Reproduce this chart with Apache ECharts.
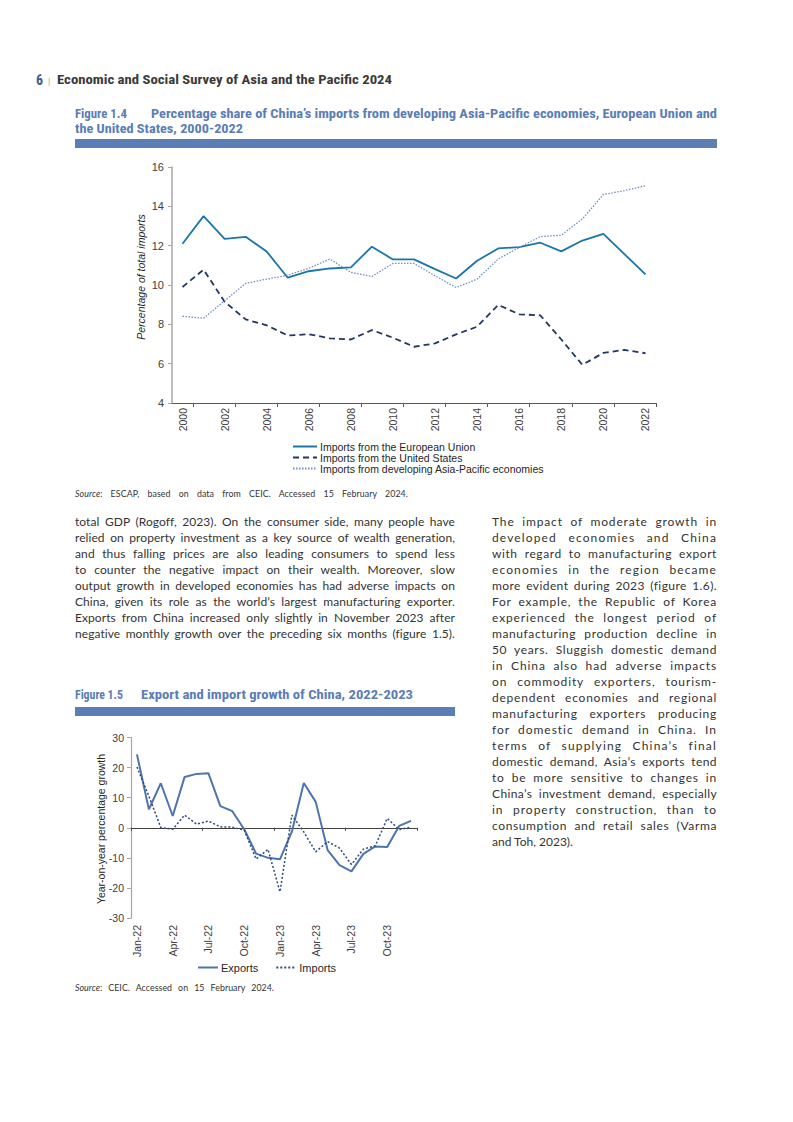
<!DOCTYPE html>
<html>
<head>
<meta charset="utf-8">
<script src="https://cdn.jsdelivr.net/npm/echarts@6/dist/echarts.min.js"></script>
<style>
  html, body { margin:0; padding:0; background:#fff; }
  #page { position:relative; width:793px; height:1122px; overflow:hidden; background:#fff; }
  #chart { position:absolute; left:0; top:0; width:793px; height:1122px; }
  .ln { position:absolute; white-space:nowrap; z-index:2; }
  .ln span { display:inline-block; white-space:nowrap; transform-origin:0 50%; }
  .body { font-family: Lato, "Noto Sans", sans-serif; font-size:12px; color:#333; }
  .src { font-family: Lato, "Noto Sans", sans-serif; font-size:8.8px; color:#333; }
  .ttl { font-family: "Liberation Sans Narrow", "Roboto Condensed", Roboto, sans-serif; font-weight:bold; font-size:13px; color:#5a7db5; }
  .hdr { font-family: "Liberation Sans Narrow", "Roboto Condensed", Roboto, sans-serif; font-weight:bold; font-size:12.5px; color:#3a3a3a; }
  .bar { position:absolute; background:#5b7fb5; z-index:1; }
</style>
</head>
<body>
<div id="page"><div id="chart"></div></div>
<script>
// ---------- Figure 1.4 data ----------
const years = ['2000','2001','2002','2003','2004','2005','2006','2007','2008','2009','2010','2011',
               '2012','2013','2014','2015','2016','2017','2018','2019','2020','2021','2022'];
const euShare   = [12.1,13.5,12.35,12.45,11.7,10.37,10.7,10.84,10.9,11.95,11.3,11.3,
                   10.81,10.33,11.23,11.86,11.93,12.15,11.71,12.26,12.6,11.57,10.54];
const usShare   = [9.9,10.78,9.15,8.25,7.95,7.43,7.5,7.29,7.23,7.71,7.32,6.86,
                   7.03,7.49,7.88,8.99,8.51,8.46,7.23,5.94,6.55,6.7,6.53];
const apShare   = [8.41,8.31,9.2,10.08,10.3,10.5,10.85,11.32,10.64,10.43,11.1,11.1,
                   10.47,9.87,10.3,11.32,11.91,12.46,12.53,13.36,14.6,14.8,15.05];
const names14   = ['Imports from the European Union','Imports from the United States',
                   'Imports from developing Asia-Pacific economies'];

// ---------- Figure 1.5 data ----------
const months = ['Jan-22','Feb-22','Mar-22','Apr-22','May-22','Jun-22','Jul-22','Aug-22','Sep-22','Oct-22','Nov-22','Dec-22',
                'Jan-23','Feb-23','Mar-23','Apr-23','May-23','Jun-23','Jul-23','Aug-23','Sep-23','Oct-23','Nov-23','Dec-23'];
const exportsG = [24.4,6.1,14.8,3.9,16.9,17.9,18.1,7.2,5.5,-0.5,-8.6,-10.0,
                  -10.5,-1.3,14.9,8.6,-7.4,-12.4,-14.5,-8.7,-6.2,-6.4,0.6,2.3];
const importsG = [20.2,10.5,0.1,-0.5,4.2,1.2,2.2,0.3,0.2,-0.8,-10.4,-7.2,
                  -21.3,4.2,-1.4,-8.0,-4.6,-6.8,-12.2,-7.1,-6.0,3.1,-0.6,0.2];
const names15 = ['Exports','Imports'];

// ---------- page text ----------
const leftLines = [
 'total GDP (Rogoff, 2023). On the consumer side, many people have',
 'relied on property investment as a key source of wealth generation,',
 'and thus falling prices are also leading consumers to spend less',
 'to counter the negative impact on their wealth. Moreover, slow',
 'output growth in developed economies has had adverse impacts on',
 'China, given its role as the world’s largest manufacturing exporter.',
 'Exports from China increased only slightly in November 2023 after',
 'negative monthly growth over the preceding six months (figure 1.5).'
];
const rightLines = [
 'The impact of moderate growth in',
 'developed economies and China',
 'with regard to manufacturing export',
 'economies in the region became',
 'more evident during 2023 (figure 1.6).',
 'For example, the Republic of Korea',
 'experienced the longest period of',
 'manufacturing production decline in',
 '50 years. Sluggish domestic demand',
 'in China also had adverse impacts',
 'on commodity exporters, tourism-',
 'dependent economies and regional',
 'manufacturing exporters producing',
 'for domestic demand in China. In',
 'terms of supplying China’s final',
 'domestic demand, Asia’s exports tend',
 'to be more sensitive to changes in',
 'China’s investment demand, especially',
 'in property construction, than to',
 'consumption and retail sales (Varma',
 'and Toh, 2023).'
];

const page = document.getElementById('page');
function put(html, x, yc, w, cls, mode, a) {
  const d = document.createElement('div');
  d.className = 'ln ' + cls;
  d.style.left = x + 'px';
  d.style.top = (yc - 10) + 'px';
  d.style.height = '20px';
  d.style.lineHeight = '20px';
  const s = document.createElement('span');
  s.innerHTML = html;
  d.appendChild(s);
  page.appendChild(d);
  const nat = s.getBoundingClientRect().width;
  if (mode === 'scale' || (w && nat > w)) {
    s.style.transform = 'scaleX(' + (w / nat) + ')';
  } else if (mode === 'just') {
    const txt = s.textContent;
    const n = txt.length;
    const sp = (txt.match(/ /g) || []).length;
    const extra = w - nat;
    s.style.letterSpacing = (extra * (a || 0) / n) + 'px';
    const nat2 = s.getBoundingClientRect().width;
    if (sp > 0) s.style.wordSpacing = ((w - nat2) / sp) + 'px';
  }
}
function bar(x, y, w, h) {
  const b = document.createElement('div');
  b.className = 'bar';
  b.style.left = x + 'px'; b.style.top = y + 'px';
  b.style.width = w + 'px'; b.style.height = h + 'px';
  page.appendChild(b);
}

function buildText() {
  put('<span style="color:#3b5b92;font-size:14px">6</span>', 36, 80, 7, 'hdr', 'scale');
  put('<span style="color:#999;font-weight:normal;font-size:9px">|</span>', 48, 81, 0, 'hdr', 'none');
  put('Economic and Social Survey of Asia and the Pacific 2024', 57, 80, 335, 'hdr', 'scale');
  put('Figure 1.4', 75, 114, 52, 'ttl', 'scale');
  put('Percentage share of China’s imports from developing Asia-Pacific economies, European Union and', 151, 114, 566, 'ttl', 'scale');
  put('the United States, 2000-2022', 75, 129, 168, 'ttl', 'scale');
  bar(75, 139, 642, 9);
  put('<i>Source</i>: ESCAP, based on data from CEIC. Accessed 15 February 2024.', 75, 494, 333, 'src', 'just', 0.1);
  leftLines.forEach((t, i) => put(t, 75, 522 + i * 16, 380, 'body', 'just', 0.15));
  rightLines.forEach((t, i) => {
    if (i === rightLines.length - 1) put(t, 492, 522 + i * 16, 0, 'body', 'none');
    else put(t, 492, 522 + i * 16, 225, 'body', 'just', 0.6);
  });
  put('Figure 1.5', 75, 695, 48, 'ttl', 'scale');
  put('Export and import growth of China, 2022-2023', 141, 695, 272, 'ttl', 'scale');
  bar(75, 707, 380, 9);
  put('<i>Source</i>: CEIC. Accessed on 15 February 2024.', 75, 988, 199, 'src', 'just', 0.1);
}

function buildChart() {
  const chart = echarts.init(document.getElementById('chart'), null, { renderer: 'svg' });
  const axFont = 'Liberation Sans, Arial, sans-serif';
  const hideSym = { color: 'transparent', borderColor: 'transparent', borderWidth: 0 };
  const option = {
    backgroundColor: 'transparent',
    animation: false,
    grid: [
      { left: 172, top: 167, width: 484, height: 236 },
      { left: 131, top: 737.5, width: 286, height: 180.5 }
    ],
    xAxis: [
      {
        gridIndex: 0, type: 'category', data: years, boundaryGap: true,
        axisLine: { show: true, onZero: false, lineStyle: { color: '#595959', width: 1 } },
        axisTick: { show: true, length: 4, interval: function (i) { return i % 2 === 1; }, lineStyle: { color: '#595959' } },
        axisLabel: { interval: 1, rotate: 90, fontSize: 10.5, color: '#404040', fontFamily: axFont, margin: 5, padding: [16, 0, 0, 0] },
        splitLine: { show: false }
      },
      {
        gridIndex: 1, type: 'category', data: months, boundaryGap: true, position: 'bottom',
        axisLine: { show: false, onZero: false },
        axisTick: { show: false },
        axisLabel: { interval: 2, rotate: 90, fontSize: 10.5, color: '#404040', fontFamily: axFont, margin: 7 },
        splitLine: { show: false }
      },
      {
        gridIndex: 1, type: 'category', data: months, boundaryGap: true, position: 'bottom',
        axisLine: { show: true, onZero: true, lineStyle: { color: '#404040', width: 1 } },
        axisTick: { show: true, length: 3, interval: function (i) { return i % 6 === 0; }, lineStyle: { color: '#404040' } },
        axisLabel: { show: false },
        splitLine: { show: false }
      }
    ],
    yAxis: [
      {
        gridIndex: 0, type: 'value', min: 4, max: 16, interval: 2,
        axisLine: { show: true, lineStyle: { color: '#a6a6a6', width: 1.5 } },
        axisTick: { show: true, length: 4, lineStyle: { color: '#a6a6a6' } },
        axisLabel: { fontSize: 11, color: '#404040', fontFamily: axFont, margin: 8 },
        splitLine: { show: false }
      },
      {
        gridIndex: 1, type: 'value', min: -30, max: 30, interval: 10,
        axisLine: { show: true, lineStyle: { color: '#a6a6a6', width: 1.2 } },
        axisTick: { show: true, length: 4, lineStyle: { color: '#a6a6a6' } },
        axisLabel: { fontSize: 10.5, color: '#404040', fontFamily: axFont, margin: 7 },
        splitLine: { show: false }
      }
    ],
    legend: [
      {
        data: names14, orient: 'vertical', left: 292, top: 441, padding: 0,
        itemWidth: 24, itemHeight: 8, itemGap: 0,
        itemStyle: hideSym,
        textStyle: { fontSize: 10.5, lineHeight: 11, color: '#262626', fontFamily: axFont, padding: [0, 0, 0, -2] }
      },
      {
        data: names15, orient: 'horizontal', left: 197, top: 962, padding: 0,
        itemWidth: 20, itemHeight: 8, itemGap: 17,
        itemStyle: hideSym,
        textStyle: { fontSize: 11, color: '#262626', fontFamily: axFont, padding: [0, 0, 0, -2] }
      }
    ],
    graphic: [
      { type: 'text', x: 141, y: 277, rotation: Math.PI / 2,
        style: { text: 'Percentage of total imports', align: 'center', verticalAlign: 'middle',
                 font: 'italic 10.5px ' + axFont, fill: '#262626' } },
      { type: 'text', x: 101, y: 829, rotation: Math.PI / 2,
        style: { text: 'Year-on-year percentage growth', align: 'center', verticalAlign: 'middle',
                 font: '10.5px ' + axFont, fill: '#262626' } }
    ],
    series: [
      { name: names14[0], type: 'line', xAxisIndex: 0, yAxisIndex: 0, data: euShare, symbol: 'none',
        color: '#1b75a8', lineStyle: { color: '#1b75a8', width: 1.8 } },
      { name: names14[1], type: 'line', xAxisIndex: 0, yAxisIndex: 0, data: usShare, symbol: 'none',
        color: '#203864', lineStyle: { color: '#203864', width: 1.8, type: [6, 4] } },
      { name: names14[2], type: 'line', xAxisIndex: 0, yAxisIndex: 0, data: apShare, symbol: 'none',
        color: '#6f8fc0', lineStyle: { color: '#6f8fc0', width: 1.3, type: [1.5, 1.5] } },
      { name: names15[0], type: 'line', xAxisIndex: 1, yAxisIndex: 1, data: exportsG, symbol: 'none',
        color: '#4f74ac', lineStyle: { color: '#4f74ac', width: 2 } },
      { name: names15[1], type: 'line', xAxisIndex: 1, yAxisIndex: 1, data: importsG, symbol: 'none',
        color: '#2c4a7c', lineStyle: { color: '#2c4a7c', width: 1.5, type: [2, 2] } }
    ]
  };
  chart.setOption(option);
}

buildChart();
if (document.fonts && document.fonts.ready) {
  document.fonts.ready.then(buildText);
} else {
  buildText();
}
</script>
</body>
</html>
